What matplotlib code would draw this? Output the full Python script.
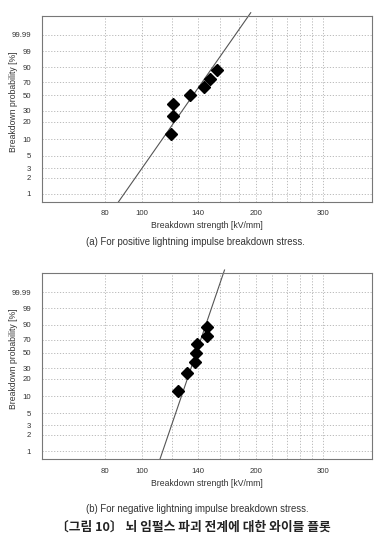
import numpy as np
import matplotlib
matplotlib.use('Agg')
import matplotlib.pyplot as plt
from matplotlib.ticker import FixedLocator, FixedFormatter, NullLocator

# ---- data ----
prob_pct = [12.5, 25, 37.5, 50, 62.5, 75, 87.5]
pos_kv = [119.5, 120.3, 120.3, 133.7, 145.8, 151.2, 157.8]
neg_kv = [124.6, 131.6, 137.8, 138.7, 139.6, 148.0, 148.0]

pos_line_kv = [86.6, 193.2]
pos_line_pct = [0.71, 99.9999999955]
neg_line_kv = [111.4, 164.8]
neg_line_pct = [0.71, 99.9999999955]

y_ticks = [1, 2, 3, 5, 10, 20, 30, 50, 70, 90, 99, 99.99]
y_ticklabels = ['1', '2', '3', '5', '10', '20', '30', '50', '70', '90', '99', '99.99']
x_ticks = [80, 100, 140, 200, 300]
x_ticklabels = ['80', '100', '140', '200', '300']
x_grid = [80, 100, 120, 140, 160, 180, 200, 220, 240, 260, 280, 300]

captions = ['(a) For positive lightning impulse breakdown stress.',
            '(b) For negative lightning impulse breakdown stress.']
title_kr = '〔그림 10〕 뇌 임펄스 파괴 전계에 대한 와이블 플롯'
xlabel = 'Breakdown strength [kV/mm]'
ylabel = 'Breakdown probability [%]'


def fwd(p):
    p = np.asarray(p, dtype=float)
    with np.errstate(all='ignore'):
        return np.log(-np.log1p(-p / 100.0))


def inv(w):
    w = np.asarray(w, dtype=float)
    with np.errstate(all='ignore'):
        return -100.0 * np.expm1(-np.exp(w))


plt.rcParams['font.family'] = ['Liberation Sans', 'DejaVu Sans']
fig = plt.figure(figsize=(3.87, 5.56), dpi=100)

ax_rects = [[42 / 387, 1 - 202 / 556, 330 / 387, 186 / 556],
            [42 / 387, 1 - 459.3 / 556, 330 / 387, 186 / 556]]
series = [(pos_kv, pos_line_kv, pos_line_pct), (neg_kv, neg_line_kv, neg_line_pct)]
txt_col = '#333333'
frame_col = '#777777'
grid_col = '#aaaaaa'

for rect, (kv, lkv, lpct) in zip(ax_rects, series):
    ax = fig.add_axes(rect)
    ax.set_xscale('log')
    ax.set_yscale('function', functions=(fwd, inv))
    ax.set_xlim(54.5, 403)
    ax.set_ylim(0.71, float(inv(3.03)))

    ax.xaxis.set_major_locator(FixedLocator(x_ticks))
    ax.xaxis.set_major_formatter(FixedFormatter(x_ticklabels))
    ax.xaxis.set_minor_locator(NullLocator())
    ax.yaxis.set_major_locator(FixedLocator(y_ticks))
    ax.yaxis.set_major_formatter(FixedFormatter(y_ticklabels))
    ax.yaxis.set_minor_locator(NullLocator())
    ax.tick_params(length=0, labelsize=5.6, colors=txt_col)
    ax.tick_params(axis='x', pad=6)
    ax.tick_params(axis='y', pad=8)

    for g in x_grid:
        ax.axvline(g, color=grid_col, lw=0.55, ls=(0, (1.6, 2.2)), zorder=1)
    for t in y_ticks:
        ax.axhline(t, color=grid_col, lw=0.55, ls=(0, (1.6, 2.2)), zorder=1)

    for s in ax.spines.values():
        s.set_color(frame_col)
        s.set_linewidth(0.8)

    ax.plot(lkv, lpct, color='#555555', lw=0.8, zorder=2, clip_on=False)
    ax.plot(kv, prob_pct, ls='none', marker='D', ms=6, color='black', zorder=3)

    ax.set_xlabel(xlabel, fontsize=6.2, color=txt_col, labelpad=3)
    ax.set_ylabel(ylabel, fontsize=6.2, color=txt_col)
    ax.yaxis.set_label_coords(-0.073, 0.54)

fig.text(195 / 387, 1 - 242 / 556, captions[0], ha='center', va='center',
         fontsize=6.9, color=txt_col)
fig.text(197 / 387, 1 - 509 / 556, captions[1], ha='center', va='center',
         fontsize=6.9, color=txt_col)
fig.text(193 / 387, 1 - 527 / 556, title_kr, ha='center', va='center',
         fontsize=9.2, fontweight='bold', color='#222222',
         family=['Noto Sans CJK KR', 'DejaVu Sans'])

fig.savefig('out.png', dpi=100)
